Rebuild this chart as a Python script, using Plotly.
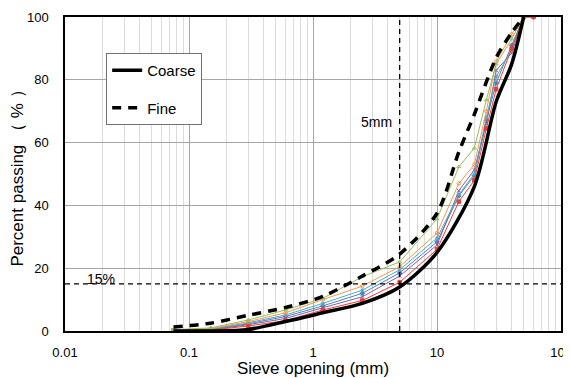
import math
import plotly.graph_objects as go

# ---------------- data ----------------
sieves = [0.075, 0.15, 0.3, 0.6, 1.2, 2.5, 5, 10, 15, 20, 25, 30, 40, 50]

coarse_x = [0.075, 0.15, 0.3, 0.6, 1.2, 2.5, 5, 10, 20, 30, 40, 50]
coarse_y = [0.0, 0.0, 0.5, 3.0, 5.8, 8.8, 14.0, 25.0, 46.0, 73.0, 85.0, 100.0]

fine_x = [0.075, 0.15, 0.3, 0.6, 1.2, 2.5, 5, 10, 15, 20, 30, 40, 50]
fine_y = [1.3, 2.5, 5.0, 7.5, 11.0, 17.5, 24.5, 37.5, 57.0, 69.0, 87.0, 95.0, 100.0]

green_y = [0.4, 1.0, 3.5, 6.7, 10.4, 17.3, 22.0, 35.7, 52.3, 58.2, 73.6, 85.0, 93.0, 100]
orange_y = [0.3, 0.8, 3.0, 5.8, 10.0, 14.3, 20.5, 31.2, 47.0, 53.0, 70.0, 85.8, 94.5, 100]
aqua_y = [0.3, 0.6, 2.6, 5.1, 8.8, 13.0, 19.5, 29.6, 43.5, 50.0, 68.0, 81.0, 89.5, 100]
blue_y = [0.2, 0.5, 2.3, 4.6, 8.0, 12.0, 18.5, 28.4, 43.0, 49.5, 67.0, 79.0, 91.0, 100]
purple_y = [0.2, 0.4, 2.0, 4.0, 7.4, 10.9, 17.5, 27.4, 44.7, 51.3, 66.0, 83.0, 88.5, 100]
red_y = [0.1, 0.3, 1.6, 3.3, 6.7, 9.7, 15.5, 26.0, 41.2, 48.0, 64.5, 77.0, 90.0, 100]

extra_x = [60]
extra_y = [100]

sieve_mark = 5      # mm
pass_mark = 15      # %
sieve_label = "5mm"
pass_label = "15%"
sieve_label_y = 66.5
pass_label_x = 0.015

FONT = "Liberation Sans, Arial, sans-serif"

fig = go.Figure()

thin = [
    (blue_y + extra_y, sieves + extra_x, "#4F81BD", "diamond"),
    (purple_y, sieves, "#8064A2", "x-thin-open"),
    (aqua_y, sieves, "#4BACC6", "asterisk-open"),
    (red_y + extra_y, sieves + extra_x, "#EE3B36", "square"),
    (orange_y, sieves, "#F79646", "circle-open"),
    (green_y, sieves, "#9BBB59", "triangle-up-open"),
]
for ys, xs, col, sym in thin:
    fig.add_trace(go.Scatter(
        x=xs, y=ys, mode="lines+markers", showlegend=False,
        line=dict(color=col, width=1),
        marker=dict(color=col, symbol=sym, size=3.5,
                    line=dict(color=col, width=1)),
        hoverinfo="skip"))

fig.add_trace(go.Scatter(
    x=coarse_x, y=coarse_y, mode="lines", name="Coarse",
    line=dict(color="black", width=3.5, shape="spline", smoothing=0.8),
    legendgroup="a"))
fig.add_trace(go.Scatter(
    x=fine_x, y=fine_y, mode="lines", name="Fine",
    line=dict(color="black", width=3.5, dash="9px,7px", shape="spline", smoothing=0.8),
    legendgroup="b"))

# reference lines
fig.add_shape(type="line", xref="x", yref="paper", x0=sieve_mark, x1=sieve_mark,
              y0=0, y1=1, line=dict(color="black", width=1.3, dash="5px,4px"))
fig.add_shape(type="line", xref="paper", yref="y", x0=0, x1=1,
              y0=pass_mark, y1=pass_mark, line=dict(color="black", width=1.3, dash="5px,4px"))

# annotations on a log axis take log10 coordinates
fig.add_annotation(x=math.log10(sieve_mark), y=sieve_label_y, xref="x", yref="y",
                   text=sieve_label, showarrow=False, xanchor="right", xshift=-6,
                   font=dict(family=FONT, size=14, color="black"))
fig.add_annotation(x=math.log10(pass_label_x), y=pass_mark, xref="x", yref="y",
                   text=pass_label, showarrow=False, xanchor="left", yanchor="bottom",
                   yshift=-5, xshift=-2, font=dict(family=FONT, size=14, color="black"))

# page body has an 8px default margin; size the figure so it fits the window
fig.update_layout(
    width=563, height=370,
    margin=dict(l=57, r=10, t=9, b=47),
    paper_bgcolor="white", plot_bgcolor="white",
    font=dict(family=FONT, size=13, color="black"),
    legend=dict(x=0.083, y=0.885, xanchor="left", yanchor="top",
                bgcolor="white", bordercolor="#707070", borderwidth=1,
                font=dict(family=FONT, size=15, color="black"),
                tracegroupgap=15, itemwidth=30, entrywidth=95,
                entrywidthmode="pixels"),
    xaxis=dict(type="log", range=[-2, 2], dtick=1,
               showgrid=True, gridcolor="#A6A6A6", gridwidth=1,
               minor=dict(dtick="D1", showgrid=True, gridcolor="#DCDCDC", gridwidth=1),
               showline=True, linecolor="black", linewidth=1.5, mirror=True,
               ticks="", ticklabelstandoff=9, zeroline=False, automargin=False,
               ticklabeloverflow="allow",
               tickfont=dict(family=FONT, size=13, color="black"),
               title=dict(text="Sieve opening (mm)", standoff=0,
                          font=dict(family=FONT, size=17, color="black"))),
    yaxis=dict(range=[0, 100], dtick=20,
               showgrid=True, gridcolor="#A6A6A6", gridwidth=1,
               showline=True, linecolor="black", linewidth=1.5, mirror=True,
               ticks="", ticklabelstandoff=12, zeroline=False, automargin=False,
               tickfont=dict(family=FONT, size=13, color="black"),
               title=dict(text="Percent passing （ % ）", standoff=7,
                          font=dict(family=FONT, size=17, color="black"))),
)

fig.write_html("out.html")
